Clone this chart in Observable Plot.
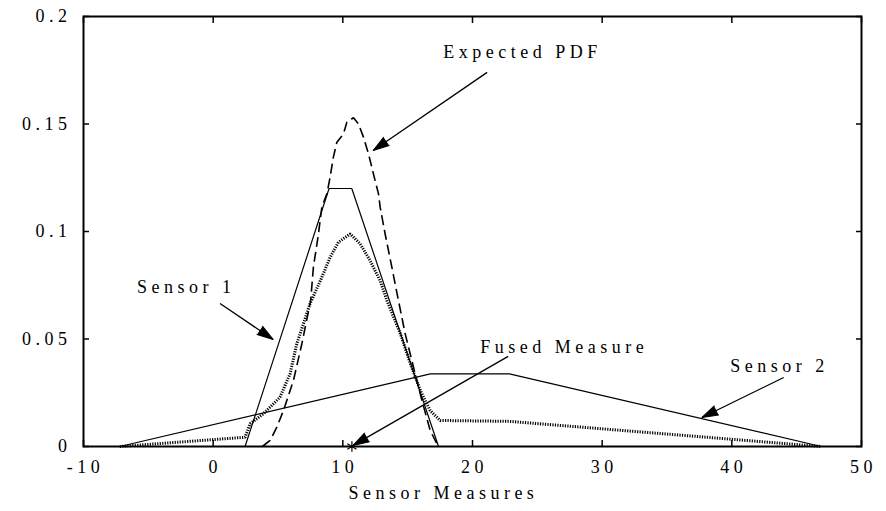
<!DOCTYPE html>
<html><head><meta charset="utf-8">
<script src="https://cdn.jsdelivr.net/npm/d3@7"></script>
<script src="https://cdn.jsdelivr.net/npm/@observablehq/plot@0.6"></script>
<style>
body{margin:0;background:#fff}
#chart svg, #chart svg text { font-family: "Liberation Serif", "DejaVu Serif", serif !important; }
</style>
</head><body><div id="chart"></div>
<script>
// ---- data ----
const sensor1X = [2.46, 8.94, 10.69, 17.38];
const sensor1Y = [0, 0.12, 0.12, 0];
const sensor2X = [-7.2, 16.75, 22.85, 46.9];
const sensor2Y = [0, 0.0338, 0.0338, 0];
const fusedX = [-7.2, 2.46, 2.85, 3.87, 5.15, 5.93, 6.45, 7.47, 8.38, 9.02, 9.66, 10.56, 11.33, 12.10, 12.87, 13.40, 14.44, 15.21, 15.98, 16.74, 17.51, 22.85, 46.9];
const fusedY = [0, 0.0043, 0.0106, 0.0152, 0.0229, 0.0338, 0.0478, 0.0664, 0.0787, 0.0880, 0.0950, 0.0989, 0.0943, 0.0865, 0.0772, 0.0679, 0.0524, 0.0385, 0.0260, 0.0167, 0.0121, 0.0117, 0];
const expectedX = [3.8, 4.39, 4.91, 5.42, 6.19, 6.84, 7.52, 7.73, 8.12, 8.38, 8.77, 9.02, 9.27, 9.54, 10.05, 10.31, 10.82, 11.20, 11.59, 11.98, 12.36, 12.75, 12.88, 13.26, 13.78, 14.29, 14.81, 15.45, 16.10, 16.74, 17.25, 17.45];
const expectedY = [0, 0.0028, 0.0090, 0.0167, 0.0307, 0.0478, 0.0679, 0.0834, 0.0989, 0.1113, 0.1175, 0.1253, 0.1346, 0.1415, 0.1454, 0.1508, 0.1529, 0.1501, 0.1439, 0.1361, 0.1268, 0.1175, 0.1113, 0.0989, 0.0834, 0.0679, 0.0524, 0.0369, 0.0214, 0.0074, 0.0013, 0];
const fusedMeasure = [10.7];
const xTicks = [-10, 0, 10, 20, 30, 40, 50];
const yTicks = [0, 0.05, 0.1, 0.15, 0.2];
const yTickLabels = ["0", "0.05", "0.1", "0.15", "0.2"];
const xLabel = "Sensor Measures";
const xLabelAt = [17.6];
// annotations: label text, label anchor, arrow start, arrow tip
const annText = ["Expected PDF", "Sensor 1", "Sensor 2", "Fused Measure"];
const annX  = [17.74, -5.87, 39.88, 20.6];
const annY  = [0.1833, 0.074, 0.0372, 0.046];
const arrX1 = [21.13, 0.53, 44.0, 22.75];
const arrY1 = [0.174, 0.0665, 0.0321, 0.0419];
const arrX2 = [12.34, 4.62, 37.7, 10.79];
const arrY2 = [0.1377, 0.0498, 0.0135, 0.0005];

// ---- build ----
const W = 886, H = 511, mL = 83, mR = 25, mT = 16, mB = 65;
const xDom = [-10, 50], yDom = [0, 0.2];
const kx = (W - mL - mR) / (xDom[1] - xDom[0]);
const ky = (H - mT - mB) / (yDom[1] - yDom[0]);
const FONT = "Liberation Serif";

const zip = (xs, ys) => xs.map((x, i) => ({x, y: ys[i]}));
const s1 = zip(sensor1X, sensor1Y);
const s2 = zip(sensor2X, sensor2Y);
const fu = zip(fusedX, fusedY);
const ex = zip(expectedX, expectedY);
const ann = annText.map((t, i) => {
  const dxp = (arrX2[i] - arrX1[i]) * kx;
  const dyp = -(arrY2[i] - arrY1[i]) * ky;
  return {t, x: annX[i], y: annY[i], x1: arrX1[i], y1: arrY1[i], x2: arrX2[i], y2: arrY2[i],
          rot: Math.atan2(dxp, -dyp) * 180 / Math.PI};
});

const plot = Plot.plot({
  width: W, height: H,
  marginLeft: mL, marginRight: mR, marginTop: mT, marginBottom: mB,
  style: {fontFamily: FONT, fontSize: "18px", letterSpacing: "4.5px", background: "#fff", color: "#000"},
  x: {domain: xDom, ticks: xTicks},
  y: {domain: yDom, ticks: yTicks},
  marks: [
    // curves
    Plot.line(s2, {x: "x", y: "y", stroke: "black", strokeWidth: 1.2}),
    Plot.line(s1, {x: "x", y: "y", stroke: "black", strokeWidth: 1.2}),
    Plot.line(fu, {x: "x", y: "y", stroke: "black", strokeWidth: 3, strokeDasharray: "1.2,1.3", strokeLinecap: "butt", strokeLinejoin: "miter"}),
    Plot.line(ex, {x: "x", y: "y", stroke: "black", strokeWidth: 1.6, strokeDasharray: "10,5", strokeLinecap: "butt"}),
    Plot.dot(fusedMeasure, {x: d => d, y: 0, symbol: "asterisk", r: 5, stroke: "black", strokeWidth: 1.2}),
    // annotations
    Plot.link(ann, {x1: "x1", y1: "y1", x2: "x2", y2: "y2", stroke: "black", strokeWidth: 1.3}),
    Plot.vector(ann, {x: "x2", y: "y2", rotate: "rot", length: 16, r: 5, shape: "spike", anchor: "end", fill: "black", stroke: "black", strokeWidth: 1}),
    Plot.text(ann, {x: "x", y: "y", text: "t", textAnchor: "start", fill: "black", fontFamily: FONT, fontSize: 18}),
    // frame and ticks (inward)
    Plot.frame({stroke: "black", strokeWidth: 2}),
    Plot.axisX({anchor: "bottom", ticks: xTicks, tickSize: -6, text: null, label: null, strokeWidth: 1.5}),
    Plot.axisX({anchor: "top", ticks: xTicks, tickSize: -6, text: null, label: null, strokeWidth: 1.5}),
    Plot.axisY({anchor: "left", ticks: yTicks, tickSize: -6, text: null, label: null, strokeWidth: 1.5}),
    Plot.axisY({anchor: "right", ticks: yTicks, tickSize: -6, text: null, label: null, strokeWidth: 1.5}),
    // tick labels
    Plot.text(xTicks, {x: d => d, y: yDom[0], dy: 21, text: d => String(d), textAnchor: "middle", dx: 2, fill: "black", fontFamily: FONT, fontSize: 18}),
    Plot.text(yTicks, {x: xDom[0], y: d => d, text: (d, i) => yTickLabels[i], textAnchor: "end", dx: -12, fill: "black", fontFamily: FONT, fontSize: 18}),
    Plot.text(xLabelAt, {x: d => d, y: yDom[0], dy: 47, text: () => xLabel, textAnchor: "middle", dx: 2, fill: "black", fontFamily: FONT, fontSize: 18})
  ]
});
document.getElementById("chart").appendChild(plot);
</script>
</body></html>
